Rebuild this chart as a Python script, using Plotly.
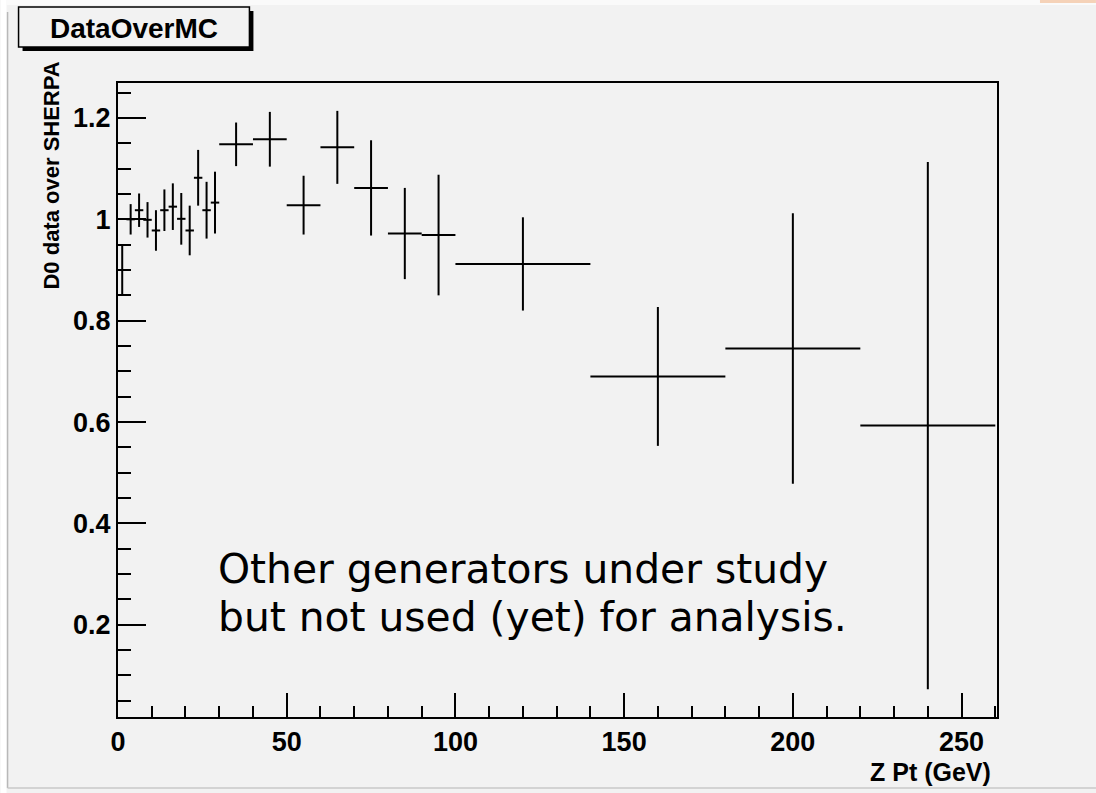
import plotly.graph_objects as go

# ---- data ----
zpt_centers = [1.25, 3.75, 6.25, 8.75, 11.25, 13.75, 16.25, 18.75, 21.25, 23.75, 26.25, 28.75,
               35, 45, 55, 65, 75, 85, 95, 120, 160, 200, 240]
zpt_halfwidth = [1.25] * 12 + [5] * 7 + [20] * 4
ratio = [0.900, 1.000, 1.018, 0.999, 0.978, 1.018, 1.025, 1.001, 0.978, 1.082, 1.018, 1.033,
         1.148, 1.158, 1.028, 1.142, 1.062, 0.972, 0.969, 0.912, 0.690, 0.745, 0.593]
ratio_err = [0.050, 0.030, 0.033, 0.035, 0.040, 0.041, 0.046, 0.051, 0.049, 0.055, 0.056, 0.061,
             0.043, 0.054, 0.058, 0.072, 0.094, 0.090, 0.119, 0.092, 0.137, 0.267, 0.520]

x_range = [0, 260.5]
y_range = [0.018, 1.269]

note_lines = ["Other generators under study", "but not used (yet) for analysis."]

BG = "#f2f2f2"
W, H = 1096, 793
L, R, T, B = 117.5, 99, 83, 76
pw, ph = W - L - R, H - T - B


def px(x):
    return (x - L) / pw


def py(y):
    return (H - B - y) / ph


fig = go.Figure()
fig.add_trace(go.Scatter(
    x=zpt_centers, y=ratio, mode="markers",
    marker=dict(size=0.1, color="black", opacity=0),
    error_x=dict(type="data", array=zpt_halfwidth, color="black", thickness=2, width=0),
    error_y=dict(type="data", array=ratio_err, color="black", thickness=2, width=0),
    showlegend=False, hoverinfo="x+y",
))

SANS = "Liberation Sans, Arial, sans-serif"
tickfont = dict(family=SANS, size=27, color="black", weight="bold")

fig.update_xaxes(
    range=x_range, tickmode="linear", tick0=0, dtick=50,
    ticks="inside", ticklen=24, tickwidth=1.5, tickcolor="black",
    minor=dict(ticks="inside", dtick=10, ticklen=11, tickwidth=1.5, tickcolor="black"),
    showline=True, linecolor="black", linewidth=2, mirror=True,
    showgrid=False, zeroline=False, tickfont=tickfont,
)
fig.update_yaxes(
    range=y_range, tickmode="linear", tick0=0, dtick=0.2,
    ticks="inside", ticklen=28, tickwidth=1.5, tickcolor="black",
    minor=dict(ticks="inside", dtick=0.05, ticklen=13, tickwidth=1.5, tickcolor="black"),
    showline=True, linecolor="black", linewidth=2, mirror=True,
    showgrid=False, zeroline=False, tickfont=tickfont,
    tickformat="~g",
)

shapes = [
    # left white strip and canvas border lines
    dict(type="rect", xref="paper", yref="paper", x0=px(0), x1=px(6), y0=py(H), y1=py(0),
         fillcolor="white", line=dict(width=0), layer="below"),
    dict(type="line", xref="paper", yref="paper", x0=px(7), x1=px(7), y0=py(788), y1=py(12),
         line=dict(color="#b8b8b8", width=1.5)),
    dict(type="line", xref="paper", yref="paper", x0=px(7), x1=px(W), y0=py(788), y1=py(788),
         line=dict(color="#c8c8c8", width=1.5)),
    # top white strip + orange fragment
    dict(type="rect", xref="paper", yref="paper", x0=px(6), x1=px(W), y0=py(5), y1=py(0),
         fillcolor="#fafafa", line=dict(width=0)),
    dict(type="rect", xref="paper", yref="paper", x0=px(1040), x1=px(W), y0=py(3), y1=py(0),
         fillcolor="#f5d2b8", line=dict(width=0)),
    # title box shadow and box
    dict(type="rect", xref="paper", yref="paper", x0=px(22), x1=px(253), y0=py(51), y1=py(11),
         fillcolor="black", line=dict(width=0)),
    dict(type="rect", xref="paper", yref="paper", x0=px(18), x1=px(249), y0=py(47), y1=py(7),
         fillcolor=BG, line=dict(color="black", width=1.5)),
]

annotations = [
    dict(xref="paper", yref="paper", x=px(133.5), y=py(28), xanchor="center", yanchor="middle",
         text="<b>DataOverMC</b>", showarrow=False,
         font=dict(family=SANS, size=28, color="black")),
    dict(xref="paper", yref="paper", x=px(993), y=py(772), xanchor="right", yanchor="middle",
         text="<b>Z Pt (GeV)</b>", showarrow=False,
         font=dict(family=SANS, size=25, color="black")),
    dict(xref="paper", yref="paper", x=px(50), y=py(60), xanchor="center", yanchor="top",
         text="<b>D0 data over SHERPA</b>", showarrow=False, textangle=-90,
         font=dict(family=SANS, size=22, color="black")),
]
for i, line in enumerate(note_lines):
    annotations.append(dict(
        xref="paper", yref="paper", x=px(216), y=py(569 + 48 * i),
        xanchor="left", yanchor="middle", text=line, showarrow=False, align="left",
        font=dict(family="DejaVu Sans, Liberation Sans, sans-serif", size=40.8, color="black"),
    ))

fig.update_layout(
    width=W, height=H,
    margin=dict(l=L, r=R, t=T, b=B, pad=0),
    paper_bgcolor=BG, plot_bgcolor=BG,
    shapes=shapes, annotations=annotations,
    showlegend=False,
)

fig.write_html("out.html")
